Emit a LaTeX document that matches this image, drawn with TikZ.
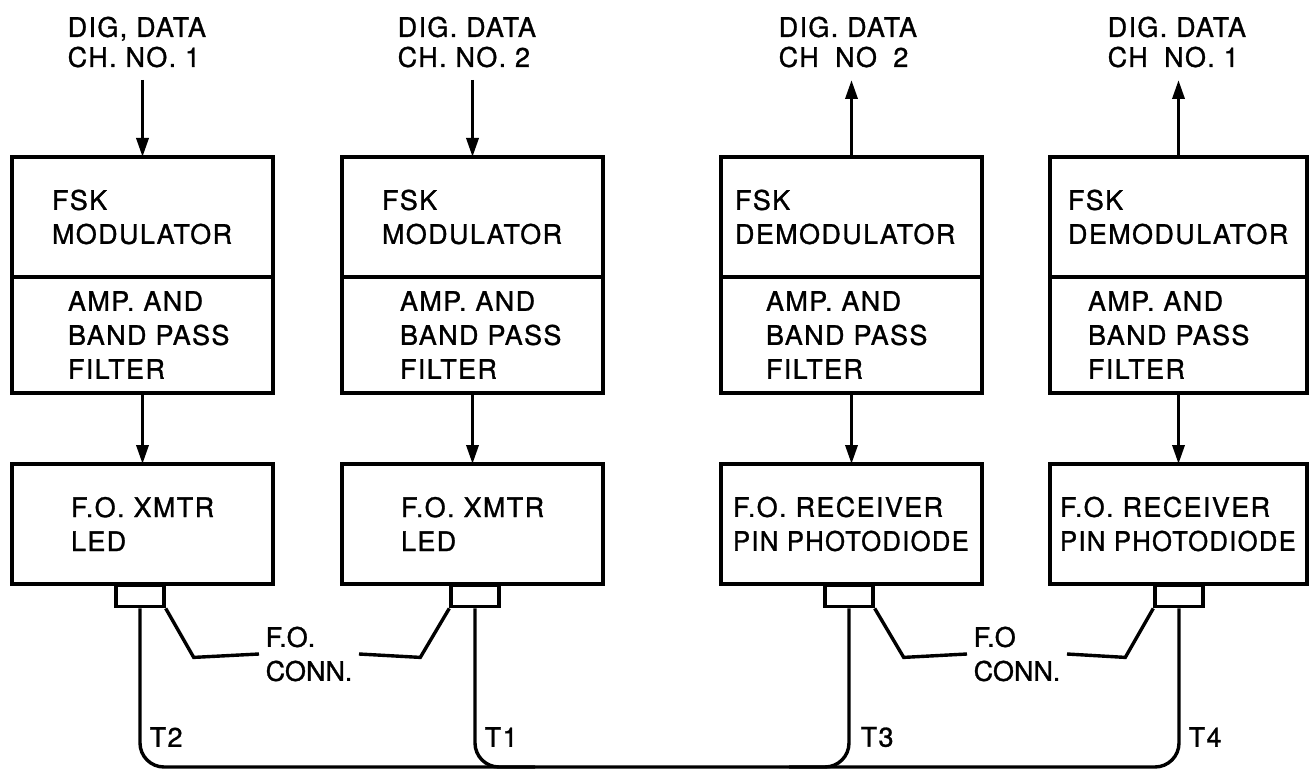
\documentclass[tikz,border=0pt]{standalone}
\usepackage{fontspec}
\setmainfont[LetterSpace=5,FakeBold=1.1]{TeX Gyre Heros}
\usetikzlibrary{arrows.meta}
\begin{document}
\begin{tikzpicture}[x=1pt,y=-1pt,line width=3.4pt,
  sec/.style={draw, anchor=north west, align=left, inner ysep=0pt, outer sep=0pt,
              font=\fontsize{27}{34}\selectfont},
  lab/.style={inner sep=0pt, align=left, anchor=north west,
              font=\fontsize{27}{30}\selectfont},
  conn/.style={inner xsep=5pt, inner ysep=0pt, align=left, anchor=west,
              font=\fontsize{27}{34}\selectfont\addfontfeature{LetterSpace=0}},
  tlab/.style={inner sep=0pt, anchor=west, font=\fontsize{27}{30}\selectfont},
  fer/.style={draw, minimum width=48pt, minimum height=21pt, inner sep=0pt, anchor=north},
  arr/.style={-{Triangle[length=19pt,width=12pt]}},
  fiber/.style={rounded corners=24pt}]
\useasboundingbox (0,0) rectangle (1310,770);

% ---- channel 1 transmitter ----
\node[sec, minimum width=261pt, minimum height=120pt, inner xsep=40pt, text width=181pt] (m1) at (12,157) {FSK\\MODULATOR};
\node[sec, minimum width=261pt, minimum height=116pt, inner xsep=56pt, text width=149pt] (a1) at (12,277) {AMP.~AND\\BAND~PASS\\FILTER};
\node[sec, minimum width=261pt, minimum height=120pt, inner xsep=59pt, text width=143pt] (x1) at (12,464) {F.O.~XMTR\\LED};
% ---- channel 2 transmitter ----
\node[sec, minimum width=261pt, minimum height=120pt, inner xsep=40pt, text width=181pt] (m2) at (342,157) {FSK\\MODULATOR};
\node[sec, minimum width=261pt, minimum height=116pt, inner xsep=58pt, text width=145pt] (a2) at (342,277) {AMP.~AND\\BAND~PASS\\FILTER};
\node[sec, minimum width=261pt, minimum height=120pt, inner xsep=59pt, text width=143pt] (x2) at (342,464) {F.O.~XMTR\\LED};
% ---- channel 2 receiver ----
\node[sec, minimum width=261pt, minimum height=120pt, inner xsep=14pt, text width=233pt] (m3) at (721,157) {FSK\\DEMODULATOR};
\node[sec, minimum width=261pt, minimum height=116pt, inner xsep=45pt, text width=171pt] (a3) at (721,277) {AMP.~AND\\BAND~PASS\\FILTER};
\node[sec, minimum width=261pt, minimum height=120pt, inner xsep=12pt, text width=237pt] (x3) at (721,464) {F.O.~RECEIVER\\\scalebox{0.95}[1]{PIN~PHOTODIODE}};
% ---- channel 1 receiver ----
\node[sec, minimum width=257pt, minimum height=120pt, inner xsep=18pt, text width=221pt] (m4) at (1050,157) {FSK\\DEMODULATOR};
\node[sec, minimum width=257pt, minimum height=116pt, inner xsep=38pt, text width=181pt] (a4) at (1050,277) {AMP.~AND\\BAND~PASS\\FILTER};
\node[sec, minimum width=257pt, minimum height=120pt, inner xsep=10pt, text width=237pt] (x4) at (1050,464) {F.O.~RECEIVER\\\scalebox{0.95}[1]{PIN~PHOTODIODE}};

% ---- data labels ----
\node[lab] (d1) at (66,15) {DIG, DATA\\CH. NO. 1};
\node[lab] (d2) at (396,15) {DIG. DATA\\CH. NO. 2};
\node[lab] (d3) at (777,15) {DIG. DATA\\CH\hphantom{.} NO\hphantom{.} 2};
\node[lab] (d4) at (1106,15) {DIG. DATA\\CH\hphantom{.} NO. 1};
\coordinate (in1) at (m1.north |- 0,80);
\coordinate (in2) at (m2.north |- 0,80);
\coordinate (out3) at (m3.north |- 0,80);
\coordinate (out4) at (m4.north |- 0,80);

\draw[arr] (in1) -- (m1.north);
\draw[arr] (in2) -- (m2.north);
\draw[arr] (m3.north) -- (out3);
\draw[arr] (m4.north) -- (out4);
\draw[arr] (a1.south) -- (x1.north);
\draw[arr] (a2.south) -- (x2.north);
\draw[arr] (a3.south) -- (x3.north);
\draw[arr] (a4.south) -- (x4.north);

% ---- fibre-optic connectors ----
\node[fer] (f1) at (140,584) {};
\node[fer] (f2) at (475,584) {};
\node[fer] (f3) at (849,584) {};
\node[fer] (f4) at (1179,584) {};

\node[conn] (c1) at (259,654) {F.O.\\CONN.};
\node[conn] (c2) at (967,654) {F.O\\CONN.};
\draw (f1.south east) -- ++(28,49) -- (c1.west);
\draw (f2.south west) -- ++(-29,49) -- (c1.east);
\draw (f3.south east) -- ++(29,49) -- (c2.west);
\draw (f4.south west) -- ++(-28,49) -- (c2.east);

% ---- fibre loop ----
\coordinate (bot) at (0,767);
\draw[fiber] (f1.south) -- (f1.south |- bot) -- (f4.south |- bot) -- (f4.south);
\draw[fiber] (f2.south) -- (f2.south |- bot) -- ++(60,0);
\draw[fiber] (f3.south) -- (f3.south |- bot) -- ++(-60,0);

\node[tlab] (t2) at (148,737) {T2};
\node[tlab] (t1) at (483,737) {T1};
\node[tlab] (t3) at (859,737) {T3};
\node[tlab] (t4) at (1187,737) {T4};
\end{tikzpicture}
\end{document}
